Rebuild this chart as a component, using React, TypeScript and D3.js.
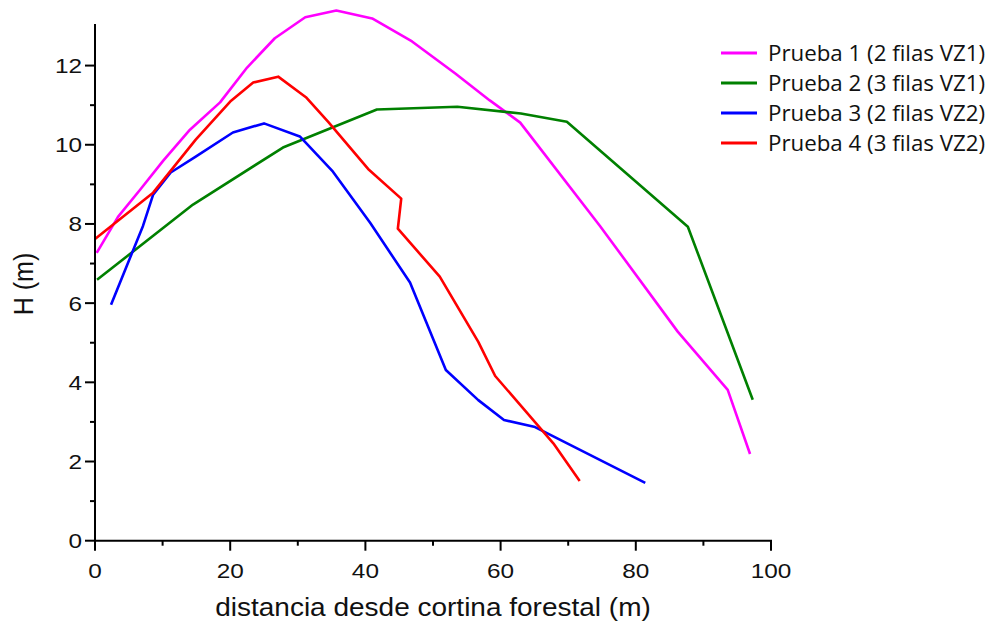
import { useEffect, useRef } from "react"
import * as d3 from "d3"

// Series data (x = distance in m, y = H in m)
const prueba1X = [0.25, 3.4, 6.7, 10.1, 14.05, 18.5, 22.5, 26.6, 31.1, 35.7, 41.0, 46.9, 53.3, 58.4, 62.9, 74.7, 86.2, 93.6, 96.9]
const prueba1Y = [7.27, 8.18, 8.87, 9.6, 10.38, 11.07, 11.95, 12.69, 13.22, 13.39, 13.19, 12.61, 11.8, 11.12, 10.56, 7.95, 5.28, 3.81, 2.19]

const prueba2X = [0.3, 14.5, 27.8, 41.7, 53.6, 63.0, 69.8, 87.7, 97.3]
const prueba2Y = [6.59, 8.49, 9.93, 10.89, 10.96, 10.79, 10.58, 7.93, 3.56]

const prueba3X = [2.37, 7.1, 8.6, 11.2, 14.9, 20.4, 25.0, 30.3, 35.2, 40.7, 46.6, 51.9, 56.7, 60.5, 65.1, 81.4]
const prueba3Y = [5.96, 7.95, 8.74, 9.3, 9.7, 10.31, 10.54, 10.21, 9.32, 8.03, 6.52, 4.31, 3.55, 3.05, 2.87, 1.46]

const prueba4X = [0, 8.6, 14.9, 20.0, 23.4, 27.1, 31.2, 34.5, 40.4, 45.3, 44.8, 51.0, 56.7, 59.2, 67.8, 71.7]
const prueba4Y = [7.62, 8.79, 10.13, 11.09, 11.57, 11.72, 11.2, 10.58, 9.39, 8.64, 7.88, 6.67, 5.02, 4.16, 2.46, 1.51]

const seriesNames = ["Prueba 1 (2 filas VZ1)", "Prueba 2 (3 filas VZ1)", "Prueba 3 (2 filas VZ2)", "Prueba 4 (3 filas VZ2)"]
const seriesColors = ["#ff00ff", "#008000", "#0000ff", "#ff0000"]

const xTicks = [0, 20, 40, 60, 80, 100]
const xMinorTicks = [10, 30, 50, 70, 90]
const yTicks = [0, 2, 4, 6, 8, 10, 12]
const yMinorTicks = [1, 3, 5, 7, 9, 11]

const xTitle = "distancia desde cortina forestal (m)"
const yTitle = "H (m)"

export default function App() {
    const svgRef = useRef<SVGSVGElement | null>(null)

    useEffect(() => {
        if (!svgRef.current) return
        const svg = d3.select(svgRef.current)
        svg.selectAll("*").remove()

        const left = 95
        const right = 771
        const top = 24
        const bottom = 540.7

        const x = d3.scaleLinear().domain([0, 100]).range([left, right])
        const y = d3.scaleLinear().domain([0, 13.05]).range([bottom, top])

        const font = "'Liberation Sans', Arial, sans-serif"

        const series = [
            { xs: prueba1X, ys: prueba1Y },
            { xs: prueba2X, ys: prueba2Y },
            { xs: prueba3X, ys: prueba3Y },
            { xs: prueba4X, ys: prueba4Y },
        ].map((s, i) => ({
            name: seriesNames[i],
            color: seriesColors[i],
            points: s.xs.map((v, j) => [v, s.ys[j]] as [number, number]),
        }))

        const line = d3.line<[number, number]>()
            .x(d => x(d[0]))
            .y(d => y(d[1]))

        // Lines
        series.forEach(s => {
            svg.append("path")
                .datum(s.points)
                .attr("fill", "none")
                .attr("stroke", s.color)
                .attr("stroke-width", 2.6)
                .attr("stroke-linejoin", "round")
                .attr("d", line)
        })

        // Axes (major + minor ticks, outward)
        const axisG = svg.append("g").attr("stroke", "#000").attr("stroke-width", 2)
        axisG.append("line").attr("x1", left).attr("x2", left).attr("y1", top).attr("y2", bottom + 1)
        axisG.append("line").attr("x1", left - 1).attr("x2", right + 1).attr("y1", bottom).attr("y2", bottom)

        yTicks.forEach(t => {
            axisG.append("line").attr("x1", left - 10).attr("x2", left).attr("y1", y(t)).attr("y2", y(t))
        })
        yMinorTicks.forEach(t => {
            axisG.append("line").attr("x1", left - 5).attr("x2", left).attr("y1", y(t)).attr("y2", y(t))
        })
        xTicks.forEach(t => {
            axisG.append("line").attr("x1", x(t)).attr("x2", x(t)).attr("y1", bottom).attr("y2", bottom + 10)
        })
        xMinorTicks.forEach(t => {
            axisG.append("line").attr("x1", x(t)).attr("x2", x(t)).attr("y1", bottom).attr("y2", bottom + 5)
        })

        // Tick labels
        yTicks.forEach(t => {
            svg.append("text")
                .attr("transform", `translate(${left - 13},${y(t) + 7.5}) scale(1.16,1)`)
                .attr("text-anchor", "end")
                .attr("font-family", font)
                .attr("font-size", 21)
                .attr("fill", "#111")
                .text(t)
        })
        xTicks.forEach(t => {
            svg.append("text")
                .attr("transform", `translate(${x(t)},${bottom + 37}) scale(1.16,1)`)
                .attr("text-anchor", "middle")
                .attr("font-family", font)
                .attr("font-size", 21)
                .attr("fill", "#111")
                .text(t)
        })

        // Axis titles
        svg.append("text")
            .attr("transform", `translate(${(left + right) / 2},616) scale(1.12,1)`)
            .attr("text-anchor", "middle")
            .attr("font-family", font)
            .attr("font-size", 25)
            .attr("fill", "#111")
            .text(xTitle)

        svg.append("text")
            .attr("transform", `translate(33,284) scale(1.12,1) rotate(-90)`)
            .attr("text-anchor", "middle")
            .attr("font-family", font)
            .attr("font-size", 25)
            .attr("fill", "#111")
            .text(yTitle)

        // Legend
        const legend = svg.append("g").attr("transform", "translate(721,53)")
        series.forEach((s, i) => {
            const row = legend.append("g").attr("transform", `translate(0,${i * 30})`)
            row.append("line")
                .attr("x1", 0).attr("x2", 36)
                .attr("stroke", s.color)
                .attr("stroke-width", 3)
            row.append("text")
                .attr("x", 47)
                .attr("dy", "0.36em")
                .attr("font-family", "'Open Sans', 'Noto Sans', sans-serif")
                .attr("font-size", 22.3)
                .attr("fill", "#111")
                .text(s.name)
        })
    }, [])

    return (
        <div style={{ position: "absolute", left: 0, top: 0, width: 987, height: 623, background: "#fff" }}>
            <svg ref={svgRef} width={987} height={623} style={{ display: "block" }} />
        </div>
    )
}
